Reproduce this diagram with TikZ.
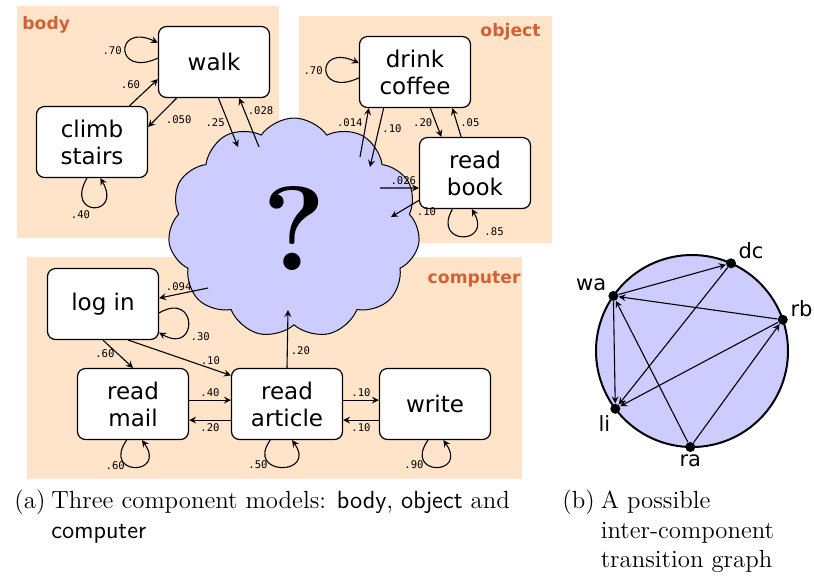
\documentclass[tikz,border=0pt]{standalone}
\usepackage{fontspec}
\newfontfamily\boxfont{DejaVu Sans}
\newfontfamily\probfont{DejaVu Sans Mono}
\usepackage{xcolor}
\usepackage{tikz}
\usetikzlibrary{arrows,shapes.symbols}

\definecolor{peach}{RGB}{255,228,202}
\definecolor{clusterorange}{RGB}{208,98,52}
\definecolor{cloudblue}{RGB}{204,204,255}

\begin{document}
\begin{tikzpicture}[>=stealth, x=0.5pt, y=0.5pt,
    state/.style={draw, fill=white, rounded corners=4pt, line width=0.6pt,
      minimum width=55.5pt, minimum height=35.5pt, inner sep=1pt, align=center,
      font=\boxfont\fontsize{11.5}{13.5}\selectfont},
    prob/.style={font=\probfont\fontsize{5.3}{6}\selectfont, inner sep=1.5pt},
    cluster/.style={font=\boxfont\bfseries\fontsize{8.6}{9}\selectfont, text=clusterorange, inner sep=0pt},
    conn/.style={->, line width=0.55pt},
    vertex/.style={circle, fill=black, inner sep=0pt, minimum size=5pt},
    gname/.style={font=\boxfont\fontsize{10.5}{11}\selectfont, inner sep=1pt},
    caption/.style={inner sep=0pt, font=\fontsize{12.4}{14.6}\selectfont}
  ]
  \useasboundingbox (0,0) rectangle (814,-575);

  \fill[peach] (17,-6) rectangle (279,-238);
  \fill[peach] (299,-16) rectangle (552,-243);
  \fill[peach] (27,-257) rectangle (522,-479);
  \node[cluster, anchor=west] (body-label) at (22,-25) {body};
  \node[cluster, anchor=east] (object-label) at (541,-32) {object};
  \node[cluster, anchor=east] (computer-label) at (521,-279) {computer};

  \node[cloud, draw, fill=cloudblue, line width=0.5pt, cloud puffs=11, cloud puff arc=110,
    cloud ignores aspect, minimum width=126pt, minimum height=110pt, inner sep=0pt,
    font=\bfseries\fontsize{60}{60}\selectfont] (unknown) at (294,-228) {?};
  \coordinate (in-walk) at (238,-147);
  \coordinate (out-walk) at (259,-147);
  \coordinate (out-coffee) at (360,-157);
  \coordinate (in-coffee) at (370,-167);
  \coordinate (out-book) at (380,-188);
  \coordinate (in-book) at (391,-217);
  \coordinate (out-login) at (208,-288);
  \coordinate (in-article) at (288,-310);

  \node[state] (walk) at (214,-62) {walk};
  \node[state] (climb) at (92,-142) {climb\\stairs};
  \node[state] (coffee) at (415,-72) {drink\\coffee};
  \node[state] (book) at (475,-173) {read\\book};
  \node[state] (login) at (103,-304) {log in};
  \node[state] (mail) at (133,-404) {read\\mail};
  \node[state] (article) at (287,-404) {read\\article};
  \node[state] (write) at (435,-404) {write};

  \draw[conn] (walk.176) .. controls +(205:48) and +(155:48) .. (walk.161) node[prob, midway, left] {.70};
  \draw[conn] (climb.262) .. controls +(240:45) and +(300:45) .. (climb.283) node[prob, midway, below left] {.40};
  \draw[conn] (climb.44) -- (walk.197) node[prob, midway, above left] {.60};
  \draw[conn] (walk.224) -- (climb.15) node[prob, midway, below right] {.050};
  \draw[conn] (walk.277) -- (in-walk) node[prob, midway, left] {.25};
  \draw[conn] (out-walk) -- (walk.305) node[prob, pos=0.75, right] {.028};

  \draw[conn] (coffee.186) .. controls +(205:48) and +(155:48) .. (coffee.171) node[prob, midway, left] {.70};
  \draw[conn] (book.238) .. controls +(240:42) and +(300:42) .. (book.265) node[prob, pos=0.7, right=4pt] {.85};
  \draw[conn] (out-coffee) -- (coffee.218) node[prob, pos=0.7, left] {.014};
  \draw[conn] (coffee.229) -- (in-coffee) node[prob, pos=0.35, right] {.10};
  \draw[conn] (coffee.293) -- (book.133) node[prob, midway, left] {.20};
  \draw[conn] (book.111) -- (coffee.316) node[prob, midway, right] {.05};
  \draw[conn] (out-book) -- (book.195) node[prob, pos=0.6, above] {.026};
  \draw[conn] (book.206) -- (in-book) node[prob, pos=0.2, below right] {.10};

  \draw[conn] (login.351) .. controls +(30:45) and +(-30:45) .. (login.333) node[prob, pos=0.6, below right] {.30};
  \draw[conn] (mail.260) .. controls +(235:44) and +(305:44) .. (mail.284) node[prob, pos=0.4, left] {.60};
  \draw[conn] (article.245) .. controls +(235:44) and +(305:44) .. (article.278) node[prob, pos=0.35, left] {.50};
  \draw[conn] (write.259) .. controls +(235:44) and +(305:44) .. (write.283) node[prob, pos=0.35, left] {.90};
  \draw[conn] (out-login) -- (login.6) node[prob, pos=0.6, above] {.094};
  \draw[conn] (login.south) -- (mail.north) node[prob, midway, left] {.60};
  \draw[conn] (login.305) -- (article.153) node[prob, pos=0.8, above] {.10};
  \draw[conn] (mail.4) -- (article.176) node[prob, midway, above] {.40};
  \draw[conn] (article.196) -- (mail.344) node[prob, midway, below] {.20};
  \draw[conn] (article.4) -- (write.176) node[prob, midway, above] {.10};
  \draw[conn] (write.196) -- (article.344) node[prob, midway, below] {.10};
  \draw[conn] (article.north) -- (in-article) node[prob, pos=0.3, right] {.20};

  \coordinate (ring) at (692,-351);
  \draw[fill=cloudblue, line width=1pt] (ring) circle [radius=96];
  \node[vertex, label={[gname]20:dc}] (dc) at ([shift={(66:96)}]ring) {};
  \node[vertex, label={[gname]150:wa}] (wa) at ([shift={(145:96)}]ring) {};
  \node[vertex, label={[gname]5:rb}] (rb) at ([shift={(19:96)}]ring) {};
  \node[vertex, label={[gname]240:li}] (li) at ([shift={(217:96)}]ring) {};
  \node[vertex, label={[gname]below:ra}] (ra) at ([shift={(269:96)}]ring) {};
  \draw[conn] (wa) -- (dc);
  \draw[conn] (rb) -- (wa);
  \draw[conn] (wa) -- (li);
  \draw[conn] (dc) -- (li);
  \draw[conn] (rb) -- (li);
  \draw[conn] (ra) -- (wa);
  \draw[conn] (ra) -- (rb);

  \node[caption, anchor=north west] (caption-a) at (14,-488)
    {\begin{tabular}{@{}l@{\hspace{3pt}}l@{}}(a) & Three component models: \textsf{body}, \textsf{object} and\\ & \textsf{computer}\end{tabular}};
  \node[caption, anchor=north west] (caption-b) at (562,-488)
    {\begin{tabular}{@{}l@{\hspace{3pt}}l@{}}(b) & A possible\\ & inter-component\\ & transition graph\end{tabular}};
\end{tikzpicture}
\end{document}
